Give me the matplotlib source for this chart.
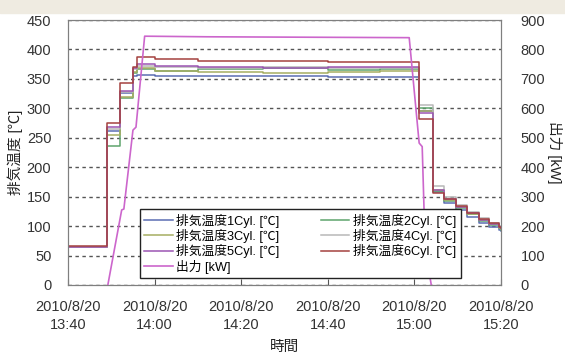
import matplotlib
matplotlib.use("Agg")
import matplotlib.pyplot as plt
import pandas as pd
from matplotlib.patches import Rectangle

plt.rcParams['font.family'] = ['Liberation Sans', 'Noto Sans CJK JP', 'DejaVu Sans']

start = pd.Timestamp("2010-08-20 13:40")

# minutes after 13:40 where the logged temperatures change
temp_min = [0, 9.0, 12.0, 15.0, 16.0, 20, 30, 45, 60, 72, 81.0, 84.2, 86.9, 89.6, 92.2, 94.9, 97.2, 99.5, 100]
cyl1 = [64, 262, 326, 355, 356, 355, 355, 355, 354, 354, 296, 158, 140, 127, 116, 106, 99, 93, 92]
cyl2 = [64, 236, 318, 360, 366, 364, 366, 368, 365, 366, 300, 160, 143, 130, 120, 109, 102, 96, 94]
cyl3 = [64, 255, 320, 362, 368, 363, 362, 360, 362, 363, 295, 162, 145, 132, 121, 110, 103, 97, 95]
cyl4 = [64, 265, 328, 366, 372, 370, 369, 370, 368, 368, 305, 168, 150, 136, 124, 113, 106, 100, 98]
cyl5 = [64, 268, 330, 368, 376, 372, 370, 369, 370, 370, 292, 162, 146, 133, 122, 111, 104, 98, 96]
cyl6 = [66, 275, 343, 370, 387, 384, 380, 380, 379, 378, 282, 157, 146, 134, 123, 112, 105, 99, 97]

power_min = [9.2, 12.4, 12.9, 15.0, 15.7, 17.7, 32, 78.8, 81.1, 81.8, 82.5, 83.9]
power_kw = [0, 255, 258, 526, 536, 845, 843, 840, 482, 470, 120, 0]

cyl_labels = ['排気温度1Cyl. [℃]', '排気温度2Cyl. [℃]', '排気温度3Cyl. [℃]',
              '排気温度4Cyl. [℃]', '排気温度5Cyl. [℃]', '排気温度6Cyl. [℃]']
cyl_colors = ['#5b6db3', '#5ea46c', '#a6ad62', '#b8b8b8', '#9b55b3', '#a4413f']
tick_min = [0, 20, 40, 60, 80, 100]
tick_labels = ['2010/8/20\n13:40', '2010/8/20\n14:00', '2010/8/20\n14:20',
               '2010/8/20\n14:40', '2010/8/20\n15:00', '2010/8/20\n15:20']

temp_t = [start + pd.Timedelta(minutes=m) for m in temp_min]
power_t = [start + pd.Timedelta(minutes=m) for m in power_min]

fig = plt.figure(figsize=(5.65, 3.54), dpi=100)
fig.patches.append(Rectangle((0, 1 - 13 / 354), 1, 13 / 354, transform=fig.transFigure,
                             color='#efebe1', zorder=0))
ax = fig.add_axes([68 / 565, 1 - 285 / 354, 433 / 565, 265 / 354])
ax2 = ax.twinx()

handles = []
for vals, lab, col in zip([cyl1, cyl2, cyl3, cyl4, cyl5, cyl6], cyl_labels, cyl_colors):
    h, = ax.plot(temp_t, vals, drawstyle='steps-post', color=col, lw=1.1, label=lab)
    handles.append(h)
hp, = ax2.plot(power_t, power_kw, color='#cc66cc', lw=1.2, label='出力 [kW]')
handles.append(hp)

ax.set_ylim(0, 450)
ax.set_yticks(range(0, 451, 50))
ax2.set_ylim(0, 900)
ax2.set_yticks(range(0, 901, 100))
ax.set_xlim(start, start + pd.Timedelta(minutes=100))
ax.set_xticks([start + pd.Timedelta(minutes=m) for m in tick_min])
ax.set_xticklabels(tick_labels, linespacing=1.35)

ax.yaxis.grid(True, color='#555555', linestyle=(0, (2.5, 2.5)), lw=1)
ax.set_axisbelow(True)

for a in (ax, ax2):
    for s in a.spines.values():
        s.set_color('#7f7f7f')
ax.tick_params(axis='x', direction='in', length=4, color='#555555', labelsize=10.5,
               labelcolor='#333333', pad=11)
ax.tick_params(axis='y', length=0, labelsize=10.5, labelcolor='#333333', pad=12)
ax2.tick_params(axis='y', length=0, labelsize=10.5, labelcolor='#333333', pad=14)

ax.set_xlabel('時間', fontsize=10.5, color='#222222', labelpad=6)
ax.set_ylabel('排気温度 [℃]', fontsize=10.5, color='#222222', labelpad=3)
ax2.set_ylabel('出力 [kW]', fontsize=10.5, color='#222222', rotation=270, labelpad=12)

# column-wise fill: left column 1,3,5,出力 / right column 2,4,6
order = [0, 2, 4, 6, 1, 3, 5]
leg = ax2.legend(handles=[handles[i] for i in order], loc='lower left', ncol=2, mode='expand',
                 bbox_to_anchor=(72 / 433, 7 / 265, 321 / 433, 0.26),
                 fontsize=9.2, frameon=True, fancybox=False, borderaxespad=0,
                 handlelength=2.2, handletextpad=0.3, labelspacing=0.1,
                 borderpad=0.35, columnspacing=1.0)
leg.get_frame().set_edgecolor('#222222')
leg.get_frame().set_linewidth(1.0)
leg.get_frame().set_alpha(1)

fig.savefig('out.png', dpi=100)
